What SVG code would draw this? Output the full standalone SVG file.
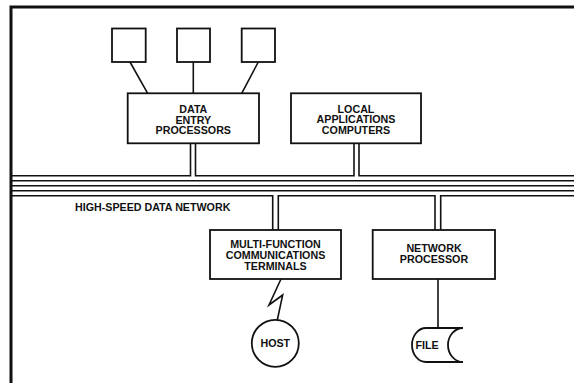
<svg xmlns="http://www.w3.org/2000/svg" width="574" height="383" viewBox="0 0 574 383">
<style>
.box{fill:#fff;stroke:#111;stroke-width:1.8}
.ln{fill:none;stroke:#111;stroke-width:1.6}
.fr{fill:none;stroke:#111;stroke-width:3}
text{font-family:"Liberation Sans",Arial,sans-serif;font-weight:bold;font-size:10.7px;fill:#111;text-anchor:middle}
</style>
<rect width="574" height="383" fill="#fff"/>
<g id="frame">
<path class="fr" d="M11 383 V7 H574"/>
</g>
<g id="connectors">
<line class="ln" x1="130" y1="62" x2="147.7" y2="93.3"/>
<line class="ln" x1="193.3" y1="62" x2="193.3" y2="93.3"/>
<line class="ln" x1="258.3" y1="62" x2="241.7" y2="93.3"/>
<path class="ln" d="M12 175.7 H190.5 V143.3"/>
<path class="ln" d="M195.5 143.3 V175.7 H354 V143.3"/>
<path class="ln" d="M359 143.3 V175.7 H574"/>
<line class="ln" x1="12" y1="180.7" x2="574" y2="180.7"/>
<line class="ln" x1="12" y1="185.7" x2="574" y2="185.7"/>
<line class="ln" x1="12" y1="190.8" x2="574" y2="190.8"/>
<path class="ln" d="M12 195.7 H272.7 V230"/>
<path class="ln" d="M278.3 230 V195.7 H435 V230"/>
<path class="ln" d="M440.7 230 V195.7 H574"/>
<path class="ln" d="M281 279 L269 305 L282.7 295 L277.3 320"/>
<line class="ln" x1="438" y1="279" x2="438" y2="328"/>
</g>
<g id="terminal1"><rect class="box" x="112" y="28.5" width="33.7" height="33.5"/></g>
<g id="terminal2"><rect class="box" x="177" y="28.5" width="33" height="33.5"/></g>
<g id="terminal3"><rect class="box" x="241.7" y="28.5" width="33.3" height="33.5"/></g>
<g id="data-entry-processors">
<rect class="box" x="127.7" y="93.3" width="131.3" height="50"/>
<text x="193.3" y="113">DATA</text>
<text x="193.3" y="123.5">ENTRY</text>
<text x="193.3" y="134">PROCESSORS</text>
</g>
<g id="local-applications-computers">
<rect class="box" x="291" y="93.3" width="130" height="50"/>
<text x="356" y="112.5">LOCAL</text>
<text x="356" y="123">APPLICATIONS</text>
<text x="356" y="133.5">COMPUTERS</text>
</g>
<g id="network-label">
<text x="75" y="210.5" style="text-anchor:start">HIGH-SPEED DATA NETWORK</text>
</g>
<g id="multi-function-terminals">
<rect class="box" x="210" y="230" width="131" height="49"/>
<text x="275.5" y="248">MULTI-FUNCTION</text>
<text x="275.5" y="259">COMMUNICATIONS</text>
<text x="275.5" y="269.8">TERMINALS</text>
</g>
<g id="network-processor">
<rect class="box" x="372.7" y="230" width="122.3" height="49"/>
<text x="434" y="252">NETWORK</text>
<text x="434" y="262.8">PROCESSOR</text>
</g>
<g id="host">
<circle class="box" cx="275.3" cy="343.3" r="23.5"/>
<text x="275.3" y="347.2">HOST</text>
</g>
<g id="file">
<path class="box" d="M463 328 H426 A14 17 0 0 0 426 362 H463 A15 17 0 0 1 463 328 Z"/>
<text x="427" y="349">FILE</text>
</g>
</svg>
